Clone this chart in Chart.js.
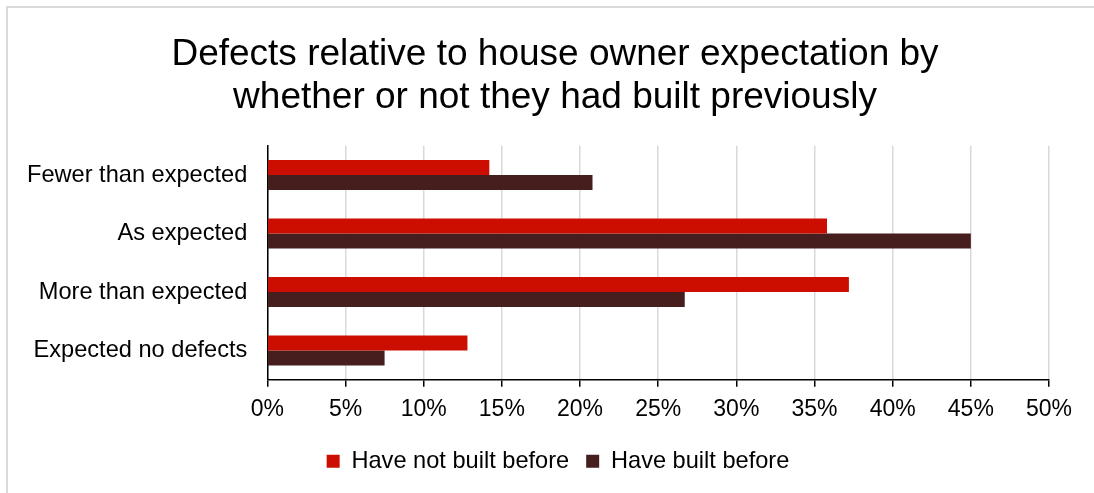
<!DOCTYPE html>
<html>
<head>
<meta charset="utf-8">
<script src="https://cdn.jsdelivr.net/npm/chart.js@4"></script>
<style>
  html, body { margin: 0; padding: 0; background: #fff; overflow: hidden; }
  .frame {
    position: absolute; left: 6px; top: 6px; width: 2000px; height: 2000px;
    border-left: 2px solid #d9d9d9; border-top: 2px solid #d9d9d9;
  }
  .wrap { position: absolute; left: 0; top: 0; width: 1094px; height: 493px; }
</style>
</head>
<body>
<div class="frame"></div>
<div class="wrap"><canvas class="defectsChart" width="1094" height="493"></canvas></div>
<script>
  // categories and shares (percent of owners)
  const categories = ['Fewer than expected', 'As expected', 'More than expected', 'Expected no defects']
  const notBuiltBefore = [14.2, 35.8, 37.2, 12.8]
  const builtBefore = [20.8, 45.0, 26.7, 7.5]
  const xTicks = [0, 50, 5] // min, max, step

  const font = "'Liberation Sans', Arial, sans-serif"

  // title and legend sit centred on the whole frame rather than the padded box
  const recentre = {
    id: 'recentre',
    afterLayout(chart) {
      chart.titleBlock.left += 54
      chart.legend.left += 60
    }
  }

  const ctx = document.querySelector('.defectsChart').getContext('2d')
  new Chart(ctx, {
    type: 'bar',
    data: {
      labels: categories,
      datasets: [{
        label: 'Have not built before',
        data: notBuiltBefore,
        backgroundColor: '#cc0e00'
      }, {
        label: 'Have built before',
        data: builtBefore,
        backgroundColor: '#461e1e'
      }]
    },
    plugins: [recentre],
    options: {
      indexAxis: 'y',
      responsive: false,
      animation: false,
      categoryPercentage: 0.513,
      barPercentage: 1,
      layout: { padding: { left: 7, right: 45, top: 0, bottom: 10 } },
      scales: {
        x: {
          min: xTicks[0],
          max: xTicks[1],
          ticks: {
            stepSize: xTicks[2],
            padding: 9,
            color: '#000',
            font: { family: font, size: 23 },
            callback: (v) => v + '%'
          },
          grid: { color: '#d9d9d9', lineWidth: 1.5, tickColor: '#000', tickLength: 7 },
          border: { color: '#000', width: 1.5 }
        },
        y: {
          ticks: { padding: 20, color: '#000', font: { family: font, size: 23.6 } },
          grid: { display: false, drawTicks: false },
          border: { color: '#000', width: 1.5 }
        }
      },
      plugins: {
        title: {
          display: true,
          text: ['Defects relative to house owner expectation by', 'whether or not they had built previously'],
          color: '#000',
          font: { family: font, size: 37, weight: 'normal', lineHeight: 1.16 },
          padding: { top: 33, bottom: 27 }
        },
        legend: {
          position: 'bottom',
          labels: {
            color: '#000',
            font: { family: font, size: 23.6 },
            boxWidth: 13,
            boxHeight: 13,
            padding: 17
          }
        },
        tooltip: { enabled: false }
      }
    }
  })
</script>
</body>
</html>
